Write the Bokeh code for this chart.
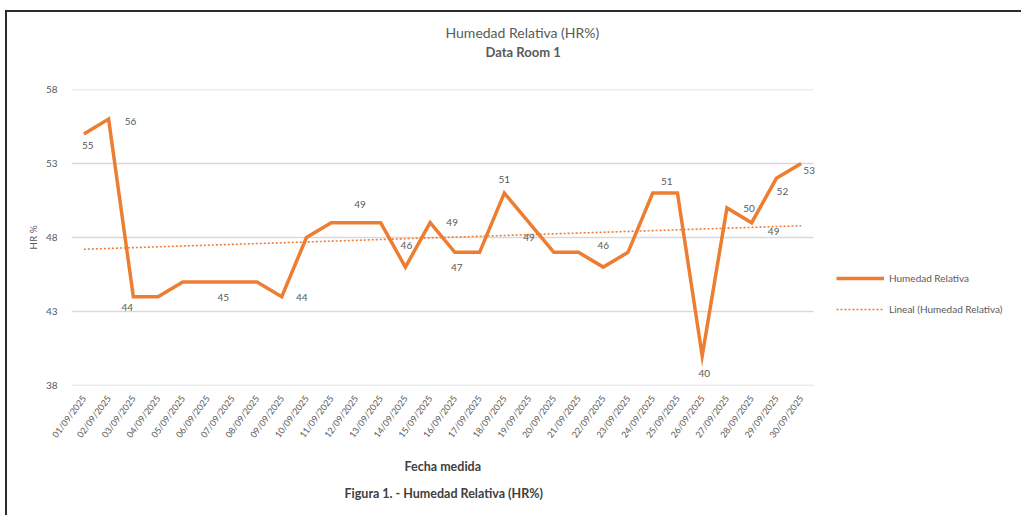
import numpy as np
from bokeh.plotting import figure
from bokeh.models import (Range1d, FixedTicker, Legend, LegendItem, Title,
                          ColumnDataSource)
from bokeh.core.properties import value
from bokeh.embed import file_html
from bokeh.resources import INLINE

# ---------------- data ----------------
fechas = ["01/09/2025", "02/09/2025", "03/09/2025", "04/09/2025", "05/09/2025",
          "06/09/2025", "07/09/2025", "08/09/2025", "09/09/2025", "10/09/2025",
          "11/09/2025", "12/09/2025", "13/09/2025", "14/09/2025", "15/09/2025",
          "16/09/2025", "17/09/2025", "18/09/2025", "19/09/2025", "20/09/2025",
          "21/09/2025", "22/09/2025", "23/09/2025", "24/09/2025", "25/09/2025",
          "26/09/2025", "27/09/2025", "28/09/2025", "29/09/2025", "30/09/2025"]
hr = [55, 56, 44, 44, 45, 45, 45, 45, 44, 48,
      49, 49, 49, 46, 49, 47, 47, 51, 49, 47,
      47, 46, 47, 51, 51, 40, 50, 49, 52, 53]
y_ticks = [38, 43, 48, 53, 58]

# which points carry a data label (1-based day) and label offsets (px)
label_days = [1, 2, 3, 7, 9, 12, 14, 15, 16, 18, 19, 22, 24, 26, 27, 28, 29, 30]
label_dx = [4, 22, -6, -9, 20, 4, 1, 22, 2, 0, 0, 0, 14, 2, 22, 22, 6, 8]
label_dy = [12, 2, 11, 16, 1, -18, -22, 0, 15, -14, 15, -22, -12, 18, 1, 9, 13, 7]

ORANGE = "#ED7D31"
GRAY = "#595959"
FONT = "Lato"

n = len(hr)
x = list(range(1, n + 1))
coef = np.polyfit(x, hr, 1)
trend = list(np.polyval(coef, x))

src = ColumnDataSource(dict(x=x, hr=hr, trend=trend))
lab_src = ColumnDataSource(dict(
    x=label_days,
    y=[hr[d - 1] for d in label_days],
    t=[str(hr[d - 1]) for d in label_days],
    dx=label_dx,
    dy=label_dy,
))
grid_src = ColumnDataSource(dict(x0=[0.5] * len(y_ticks), x1=[n + 0.5] * len(y_ticks),
                                 y=y_ticks))

# plot area spans the chart and the legend area to its right
W, H = 1016, 505
LEFT, TOP, BOTTOM = 64, 77, 132
frame_w = W - LEFT
px_per_cat = 742 / n
p = figure(width=W, height=H,
           x_range=Range1d(0.5, 0.5 + frame_w / px_per_cat), y_range=Range1d(38, 58),
           output_backend="svg", toolbar_location=None,
           min_border_left=LEFT, min_border_right=0,
           min_border_top=TOP, min_border_bottom=BOTTOM)
p.styles = {"margin-left": "5px", "margin-top": "10px",
            "border-left": "2px solid #2b2b2b", "border-top": "2px solid #2b2b2b"}
p.outline_line_color = None
p.background_fill_color = "white"

# horizontal gridlines only across the categories
p.xgrid.grid_line_color = None
p.ygrid.grid_line_color = None
p.segment(x0="x0", x1="x1", y0="y", y1="y", source=grid_src,
          line_color="#D9D9D9", line_width=1.6)

# y axis
p.yaxis.ticker = FixedTicker(ticks=y_ticks)
p.yaxis.axis_line_color = None
p.yaxis.major_tick_line_color = None
p.yaxis.minor_tick_line_color = None
p.yaxis.major_label_text_font = FONT
p.yaxis.major_label_text_font_size = "10px"
p.yaxis.major_label_text_color = GRAY
p.yaxis.major_label_standoff = 8
p.yaxis.axis_label = "HR %"
p.yaxis.axis_label_text_font = FONT
p.yaxis.axis_label_text_font_size = "10px"
p.yaxis.axis_label_text_font_style = "normal"
p.yaxis.axis_label_text_color = GRAY
p.yaxis.axis_label_standoff = 4

# x axis
p.xaxis.ticker = FixedTicker(ticks=x)
p.xaxis.major_label_overrides = {i + 1: f for i, f in enumerate(fechas)}
p.xaxis.major_label_orientation = 0.93
p.xaxis.axis_line_color = None
p.xaxis.major_tick_line_color = None
p.xaxis.minor_tick_line_color = None
p.xaxis.major_label_text_font = FONT
p.xaxis.major_label_text_font_size = "9px"
p.xaxis.major_label_text_color = GRAY
p.xaxis.major_label_standoff = 5

# series
r_line = p.line("x", "hr", source=src, line_color=ORANGE, line_width=3.5,
                line_join="miter")
r_trend = p.line("x", "trend", source=src, line_color=ORANGE, line_width=1.6,
                 line_dash="2 2")

p.text("x", "y", text="t", source=lab_src, x_offset="dx", y_offset="dy",
       text_align="center", text_baseline="middle",
       text_font=value(FONT), text_font_size="10px", text_color=GRAY)

legend = Legend(items=[LegendItem(label="Humedad Relativa", renderers=[r_line]),
                       LegendItem(label="Lineal (Humedad Relativa)", renderers=[r_trend])],
                location=(765, 66), border_line_color=None,
                background_fill_alpha=0, glyph_width=48, glyph_height=20,
                label_height=20, label_text_font=FONT, label_text_font_size="10px",
                label_text_color=GRAY, spacing=11, margin=0, padding=5)
p.add_layout(legend, "center")

# titles (stacked outward from the frame)
p.add_layout(Title(text=" ", text_font_size="12px", standoff=14), "above")
p.add_layout(Title(text="Data Room 1", align="left", offset=414,
                   text_font=FONT, text_font_size="13px", text_font_style="bold",
                   text_color=GRAY, standoff=0), "above")
p.add_layout(Title(text="Humedad Relativa (HR%)", align="left", offset=374,
                   text_font=FONT, text_font_size="14px", text_font_style="normal",
                   text_color=GRAY, standoff=2), "above")

p.add_layout(Title(text="Fecha medida", align="left", offset=333,
                   text_font=FONT, text_font_size="12.5px", text_font_style="bold",
                   text_color="#404040", standoff=20), "below")
p.add_layout(Title(text="Figura 1. - Humedad Relativa (HR%)", align="left", offset=273,
                   text_font=FONT, text_font_size="12.5px", text_font_style="bold",
                   text_color="#404040", standoff=0), "below")

open("out.html", "w").write(file_html(p, INLINE))
